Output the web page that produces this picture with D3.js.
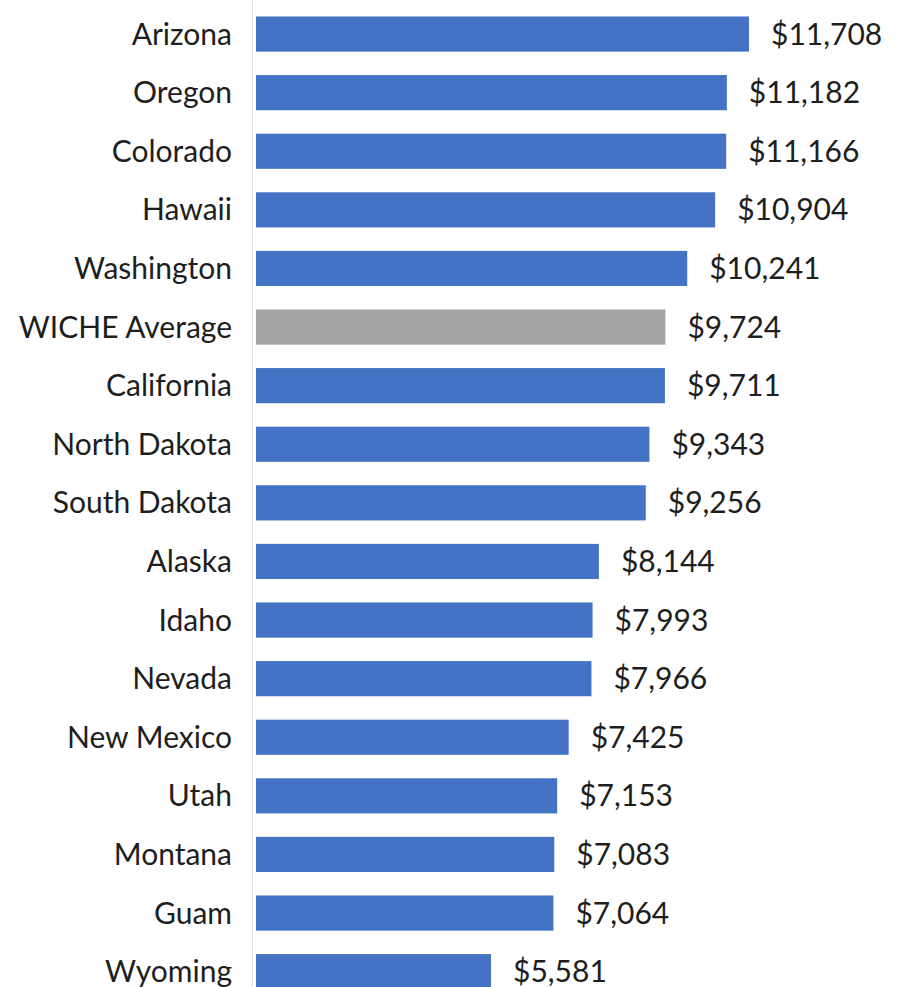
<!DOCTYPE html>
<html><head><meta charset="utf-8">
<script src="https://cdn.jsdelivr.net/npm/d3@7"></script>
<style>html,body{margin:0;padding:0;background:#fff;overflow:hidden}</style>
</head><body>
<svg id="c" width="902" height="987"></svg>
<script>
const categories = ["Arizona","Oregon","Colorado","Hawaii","Washington","WICHE Average","California","North Dakota","South Dakota","Alaska","Idaho","Nevada","New Mexico","Utah","Montana","Guam","Wyoming"];
const values = [11708,11182,11166,10904,10241,9724,9711,9343,9256,8144,7993,7966,7425,7153,7083,7064,5581];
const highlight = ["WICHE Average"];

const svg = d3.select("#c");
const x = d3.scaleLinear().domain([0, 11708]).range([256, 749]);
const y = d3.scaleBand().domain(categories).range([4.75, 4.75 + 17*58.6]).paddingInner(0.4).paddingOuter(0.2);

svg.append("line").attr("x1",252.5).attr("x2",252.5).attr("y1",0).attr("y2",987)
  .attr("stroke","#e3e3e3").attr("stroke-width",1);

const rows = categories.map((c,i)=>({c, v: values[i]}));
svg.selectAll("rect.bar").data(rows).join("rect")
  .attr("x", x(0)).attr("y", d=>y(d.c)).attr("width", d=>x(d.v)-x(0)).attr("height", y.bandwidth())
  .attr("fill", d=> highlight.includes(d.c) ? "#A5A5A5" : "#4472C4");

const font = "Lato, 'Open Sans', sans-serif";
svg.selectAll("text.cat").data(rows).join("text")
  .attr("x", 232).attr("y", d=>y(d.c)+y.bandwidth()/2).attr("dy","0.35em")
  .attr("text-anchor","end").attr("font-family",font).attr("font-size",30)
  .attr("fill","#1e1e1e").text(d=>d.c);

const fmt = d3.format(",");
svg.selectAll("text.val").data(rows).join("text")
  .attr("x", d=>x(d.v)+22).attr("y", d=>y(d.c)+y.bandwidth()/2).attr("dy","0.35em")
  .attr("font-family",font).attr("font-size",30)
  .attr("fill","#1e1e1e").text(d=>"$"+fmt(d.v));
</script>
</body></html>
